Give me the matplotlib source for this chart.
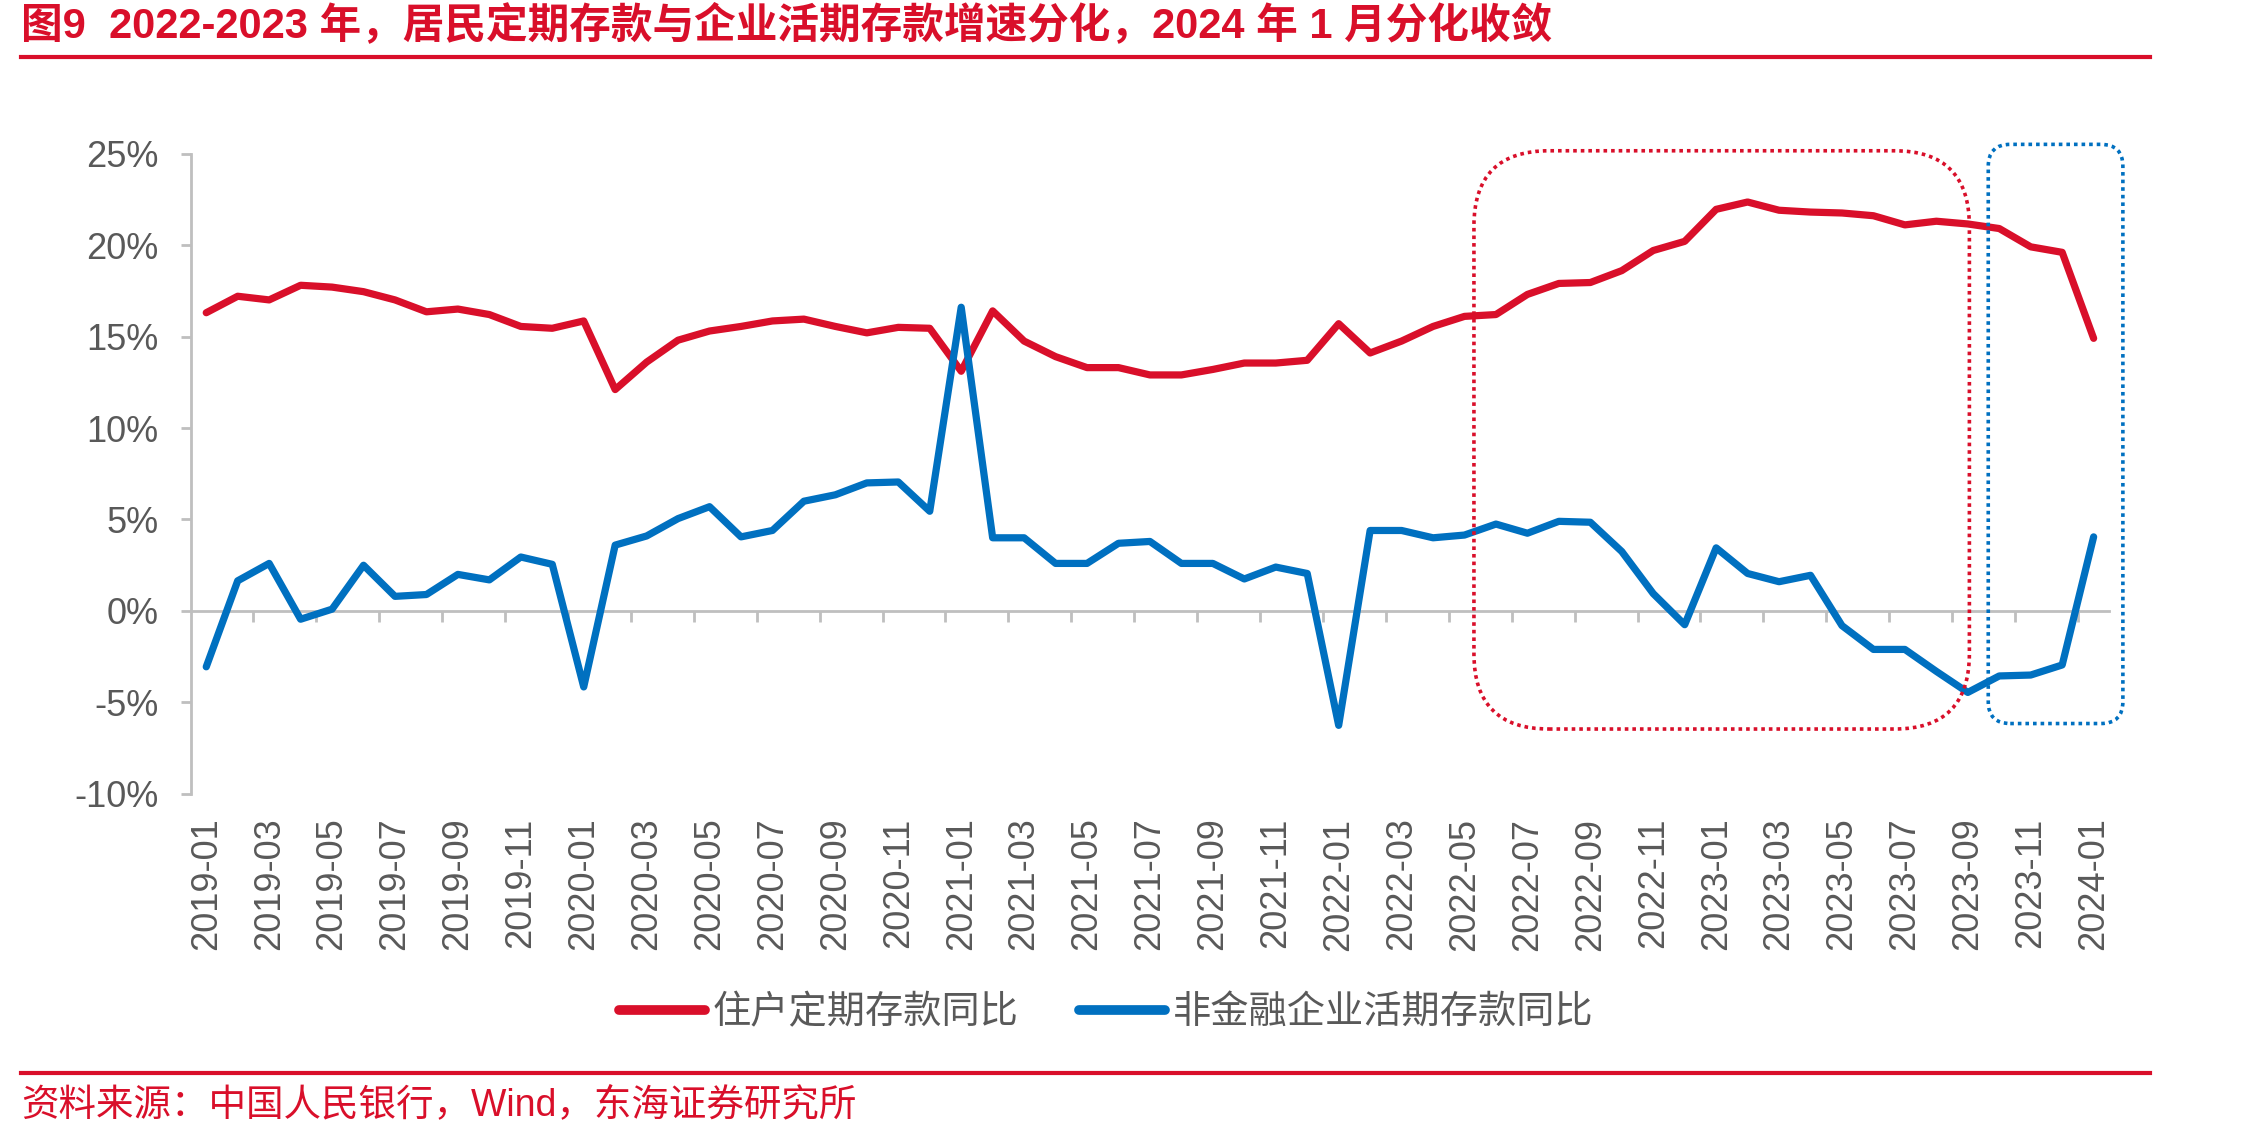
import matplotlib.pyplot as plt
import numpy as np
import pandas as pd
from matplotlib.patches import FancyBboxPatch
from matplotlib.lines import Line2D
from matplotlib.transforms import IdentityTransform

plt.rcParams['font.family'] = ['Liberation Sans', 'Noto Sans CJK SC']

# 2019-01 ... 2024-01 月度
months = pd.date_range("2019-01-01", "2024-01-01", freq="MS").strftime("%Y-%m").tolist()

household_time = [16.3, 17.2, 17.0, 17.8, 17.7, 17.45, 17.0, 16.35, 16.5, 16.2,
                  15.55, 15.45, 15.85, 12.1, 13.6, 14.8, 15.3, 15.55, 15.85, 15.95,
                  15.55, 15.2, 15.5, 15.45, 13.1, 16.4, 14.75, 13.9, 13.3, 13.3,
                  12.9, 12.9, 13.2, 13.55, 13.55, 13.7, 15.7, 14.1, 14.75, 15.55,
                  16.1, 16.2, 17.3, 17.9, 17.95, 18.6, 19.7, 20.2, 21.95, 22.35,
                  21.9, 21.8, 21.75, 21.6, 21.1, 21.3, 21.15, 20.9, 19.9, 19.6,
                  14.9]
corp_demand = [-3.05, 1.65, 2.6, -0.45, 0.1, 2.5, 0.8, 0.9, 2.0, 1.7,
               2.95, 2.55, -4.15, 3.6, 4.1, 5.05, 5.7, 4.05, 4.4, 6.0,
               6.35, 7.0, 7.05, 5.45, 16.6, 4.0, 4.0, 2.6, 2.6, 3.7,
               3.8, 2.6, 2.6, 1.75, 2.4, 2.05, -6.25, 4.4, 4.4, 4.0,
               4.15, 4.75, 4.25, 4.9, 4.85, 3.25, 0.95, -0.75, 3.45, 2.05,
               1.6, 1.95, -0.8, -2.1, -2.1, -3.3, -4.45, -3.55, -3.5, -2.95,
               4.05]

series_names = ["住户定期存款同比", "非金融企业活期存款同比"]
yticks = [-10, -5, 0, 5, 10, 15, 20, 25]

RED = "#D90F2A"
BLUE = "#0070C0"
GRAY = "#BFBFBF"
TXT = "#595959"

fig = plt.figure(figsize=(22.44, 11.38), dpi=100)
ax = fig.add_axes([0.0849, 0.3023, 0.8551, 0.5628])

x = np.arange(len(months))
l1, = ax.plot(x, household_time, color=RED, lw=5.2, solid_capstyle="round", solid_joinstyle="round", zorder=3)
l2, = ax.plot(x, corp_demand, color=BLUE, lw=5.2, solid_capstyle="round", solid_joinstyle="round", zorder=3)

ax.set_xlim(-0.5, len(months) - 0.5)
ax.set_ylim(-10, 25)
ax.set_yticks(yticks, [f"{v}%" for v in yticks])

for s in ["top", "right"]:
    ax.spines[s].set_visible(False)
ax.spines["left"].set_color(GRAY)
ax.spines["left"].set_linewidth(2)
ax.spines["bottom"].set_position(("data", 0))
ax.spines["bottom"].set_color(GRAY)
ax.spines["bottom"].set_linewidth(2)

ax.tick_params(axis="y", length=7, width=2, color=GRAY, labelsize=26, labelcolor=TXT, pad=16)
ax.set_xticks(np.arange(1.5, len(months) - 1, 2), [])
ax.tick_params(axis="x", length=8, width=2, color=GRAY)

sec = ax.secondary_xaxis("bottom")
sec.set_xticks(x[::2], months[::2], rotation=90)
sec.spines["bottom"].set_visible(False)
sec.tick_params(length=0, labelsize=26, labelcolor=TXT, pad=17)

# 虚线框
def box(x0, y0, x1, y1, color, r):
    p0 = ax.transData.transform((x0, y0))
    p1 = ax.transData.transform((x1, y1))
    patch = FancyBboxPatch(p0, p1[0] - p0[0], p1[1] - p0[1],
                           boxstyle=f"round,pad=0,rounding_size={r}",
                           transform=IdentityTransform(), fill=False,
                           edgecolor=color, lw=2.6, linestyle=(0, (1, 1.1)), zorder=4)
    fig.add_artist(patch)

box(40.3, -6.45, 56.05, 25.15, RED, 75)
box(56.65, -6.15, 60.93, 25.5, BLUE, 22)

leg = fig.legend([l1, l2], series_names, loc="center", bbox_to_anchor=(0.493, 0.110), ncol=2,
                 frameon=False, fontsize=27.5, labelcolor=TXT, handlelength=2.25,
                 handletextpad=0.2, columnspacing=1.6)
for ln in leg.get_lines():
    ln.set_linewidth(7)
    ln.set_solid_capstyle("round")

fig.text(0.0094, 0.978, "图9  2022-2023 年，居民定期存款与企业活期存款增速分化，2024 年 1 月分化收敛",
         color=RED, fontsize=30, fontweight="bold", va="center", ha="left")
fig.add_artist(Line2D([0.0094, 0.958], [0.950, 0.950], transform=fig.transFigure, color=RED, lw=3))
fig.add_artist(Line2D([0.0094, 0.958], [0.0571, 0.0571], transform=fig.transFigure, color=RED, lw=3))
fig.text(0.0094, 0.029, "资料来源：中国人民银行，Wind，东海证券研究所",
         color=RED, fontsize=27, va="center", ha="left")

fig.savefig("out.png", dpi=100)
